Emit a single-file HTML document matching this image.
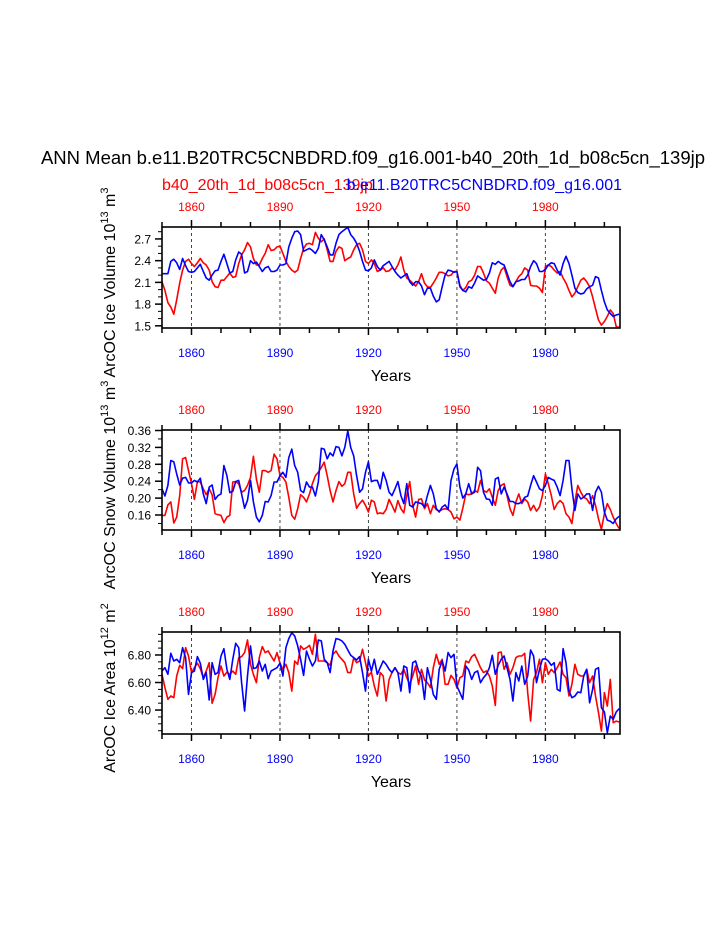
<!DOCTYPE html>
<html><head><meta charset="utf-8">
<style>
html,body{margin:0;padding:0;background:#fff;}
svg{display:block;font-family:"Liberation Sans",Arial,sans-serif;}
</style></head>
<body>
<svg id="chart" width="723" height="935" viewBox="0 0 723 935" xmlns="http://www.w3.org/2000/svg">
<text x="373" y="164" font-size="18.5" text-anchor="middle">ANN Mean b.e11.B20TRC5CNBDRD.f09_g16.001-b40_20th_1d_b08c5cn_139jp</text>
<text x="162" y="190" font-size="16" fill="#f00">b40_20th_1d_b08c5cn_139jp</text>
<text x="622" y="190" font-size="16" fill="#00f" text-anchor="end">b.e11.B20TRC5CNBDRD.f09_g16.001</text>
<g id="panels"></g>
</svg>
<script>
const years1 = [];
for (let y = 1850; y <= 2005; y++) years1.push(y);
const xTickYears = [1860, 1890, 1920, 1950, 1980];

const iceVolBlue = [2.22,2.22,2.22,2.39,2.42,2.37,2.28,2.43,2.33,2.25,2.24,2.25,2.30,2.35,2.25,2.16,2.13,2.20,2.26,2.27,2.39,2.49,2.36,2.23,2.25,2.41,2.52,2.49,2.23,2.25,2.40,2.36,2.38,2.32,2.25,2.30,2.32,2.25,2.25,2.27,2.34,2.34,2.36,2.59,2.71,2.80,2.81,2.76,2.53,2.55,2.57,2.54,2.50,2.57,2.76,2.69,2.59,2.48,2.48,2.64,2.76,2.80,2.83,2.86,2.76,2.71,2.64,2.53,2.39,2.27,2.26,2.30,2.41,2.32,
2.27,2.33,2.36,2.39,2.32,2.25,2.20,2.16,2.19,2.22,2.11,2.06,2.11,2.11,2.05,1.93,2.02,2.02,1.91,1.83,1.86,2.04,2.20,2.27,2.26,2.24,2.25,2.04,1.99,1.97,2.04,2.02,2.09,2.19,2.16,2.13,2.14,2.23,2.37,2.35,2.39,2.36,2.34,2.23,2.11,2.04,2.11,2.12,2.14,2.14,2.20,2.32,2.40,2.36,2.25,2.25,2.28,2.34,2.37,2.36,2.27,2.20,2.36,2.46,2.36,2.20,2.02,1.96,1.94,1.95,2.01,2.04,2.06,2.18,2.16,1.99,1.83,1.72,1.67,1.63,1.65,1.66];
const iceVolRed = [2.11,1.99,1.82,1.76,1.66,1.86,2.09,2.27,2.39,2.42,2.36,2.32,2.37,2.43,2.37,2.34,2.27,2.11,2.04,2.03,2.13,2.13,2.18,2.23,2.17,2.18,2.36,2.48,2.55,2.65,2.59,2.43,2.34,2.34,2.43,2.50,2.62,2.54,2.55,2.59,2.60,2.50,2.39,2.32,2.27,2.24,2.27,2.43,2.57,2.63,2.64,2.62,2.79,2.71,2.66,2.70,2.55,2.39,2.39,2.53,2.59,2.57,2.40,2.43,2.45,2.55,2.62,2.64,2.55,2.39,2.36,2.41,2.36,2.25,
2.27,2.30,2.25,2.26,2.30,2.27,2.34,2.45,2.27,2.16,2.13,2.09,2.05,2.11,2.22,2.09,2.04,2.03,2.09,2.16,2.24,2.24,2.22,2.19,2.20,2.25,2.25,2.06,1.99,2.03,2.11,2.13,2.20,2.32,2.32,2.23,2.12,2.09,2.02,1.95,2.16,2.27,2.31,2.18,2.06,2.04,2.11,2.18,2.22,2.30,2.27,2.06,2.05,2.05,2.02,1.96,2.32,2.34,2.32,2.27,2.23,2.25,2.16,2.09,1.99,1.90,1.95,2.04,2.13,2.16,2.11,2.04,1.90,1.74,1.58,1.51,1.56,1.63,1.72,1.67,1.49,1.48];

const snowBlue = [0.222,0.205,0.230,0.289,0.286,0.257,0.231,0.247,0.249,0.236,0.236,0.242,0.238,0.247,0.210,0.187,0.226,0.231,0.197,0.206,0.210,0.277,0.253,0.213,0.216,0.239,0.242,0.210,0.176,0.195,0.242,0.191,0.155,0.144,0.159,0.192,0.191,0.206,0.238,0.238,0.253,0.261,0.249,0.296,0.316,0.277,0.261,0.218,0.213,0.238,0.226,0.226,0.205,0.238,0.318,0.316,0.293,0.307,0.300,0.322,0.320,0.300,0.320,0.359,0.320,0.300,0.253,0.214,0.222,0.261,0.286,0.239,0.242,0.242,
0.222,0.261,0.242,0.214,0.206,0.222,0.239,0.206,0.187,0.234,0.183,0.179,0.191,0.189,0.187,0.179,0.206,0.230,0.210,0.175,0.167,0.179,0.184,0.173,0.242,0.269,0.281,0.226,0.200,0.210,0.234,0.210,0.214,0.273,0.265,0.214,0.198,0.197,0.183,0.245,0.249,0.210,0.226,0.210,0.192,0.192,0.187,0.187,0.191,0.202,0.205,0.230,0.253,0.238,0.222,0.218,0.230,0.249,0.245,0.242,0.226,0.206,0.242,0.289,0.289,0.222,0.171,0.210,0.198,0.202,0.210,0.210,0.171,0.214,0.228,0.214,0.167,0.148,0.145,0.140,0.151,0.157];
const snowRed = [0.159,0.159,0.184,0.191,0.141,0.155,0.206,0.293,0.296,0.265,0.234,0.197,0.239,0.238,0.222,0.208,0.222,0.208,0.163,0.161,0.159,0.142,0.155,0.159,0.238,0.239,0.234,0.214,0.218,0.230,0.249,0.299,0.245,0.214,0.265,0.265,0.261,0.265,0.304,0.293,0.253,0.249,0.238,0.202,0.159,0.150,0.175,0.208,0.202,0.191,0.210,0.234,0.253,0.261,0.273,0.285,0.253,0.218,0.191,0.218,0.239,0.228,0.234,0.261,0.261,0.210,0.176,0.187,0.195,0.183,0.167,0.195,0.191,0.163,
0.165,0.163,0.173,0.197,0.183,0.167,0.194,0.175,0.165,0.206,0.239,0.183,0.155,0.197,0.198,0.175,0.187,0.163,0.183,0.173,0.169,0.173,0.175,0.173,0.167,0.151,0.155,0.148,0.176,0.210,0.208,0.210,0.218,0.214,0.242,0.218,0.214,0.222,0.202,0.183,0.218,0.230,0.234,0.206,0.175,0.159,0.191,0.210,0.187,0.198,0.191,0.171,0.183,0.169,0.179,0.206,0.257,0.234,0.206,0.173,0.187,0.194,0.187,0.163,0.155,0.140,0.191,0.230,0.214,0.202,0.198,0.187,0.206,0.183,0.151,0.126,0.163,0.187,0.173,0.155,0.140,0.128];

const areaBlue = [6.684,6.708,6.660,6.812,6.756,6.769,6.744,6.853,6.781,6.514,6.672,6.684,6.788,6.740,6.623,6.672,6.473,6.744,6.660,6.672,6.793,6.846,6.696,6.623,6.769,6.885,6.853,6.599,6.393,6.647,6.866,6.701,6.708,6.756,6.684,6.732,6.628,6.684,6.696,6.708,6.740,6.647,6.853,6.919,6.963,6.938,6.866,6.769,6.652,6.829,6.769,6.720,6.756,6.909,6.902,6.769,6.744,6.672,6.829,6.919,6.914,6.902,6.878,6.836,6.798,6.781,6.764,6.788,6.672,6.538,6.769,6.684,6.769,6.660,
6.708,6.756,6.732,6.696,6.672,6.708,6.672,6.538,6.720,6.708,6.526,6.744,6.756,6.684,6.647,6.478,6.708,6.623,6.514,6.478,6.696,6.756,6.684,6.817,6.781,6.805,6.575,6.526,6.478,6.720,6.691,6.623,6.672,6.684,6.599,6.635,6.660,6.708,6.798,6.660,6.725,6.769,6.793,6.708,6.623,6.466,6.672,6.611,6.720,6.587,6.647,6.836,6.793,6.599,6.696,6.769,6.773,6.756,6.725,6.744,6.550,6.538,6.846,6.744,6.538,6.490,6.502,6.531,6.526,6.647,6.696,6.453,6.550,6.696,6.708,6.417,6.386,6.235,6.357,6.332,6.386,6.410];
const areaRed = [6.660,6.563,6.478,6.502,6.490,6.647,6.725,6.701,6.853,6.793,6.672,6.708,6.740,6.701,6.635,6.684,6.744,6.449,6.514,6.635,6.720,6.647,6.676,6.660,6.684,6.660,6.781,6.788,6.817,6.909,6.732,6.660,6.599,6.781,6.861,6.817,6.829,6.793,6.756,6.817,6.740,6.696,6.732,6.672,6.538,6.756,6.732,6.866,6.841,6.853,6.870,6.805,6.950,6.756,6.756,6.756,6.744,6.725,6.805,6.829,6.793,6.769,6.744,6.672,6.672,6.781,6.744,6.756,6.841,6.744,6.647,6.676,6.575,6.502,
6.672,6.647,6.466,6.623,6.672,6.708,6.672,6.660,6.696,6.635,6.587,6.647,6.720,6.587,6.696,6.618,6.599,6.563,6.708,6.805,6.732,6.769,6.587,6.587,6.652,6.623,6.563,6.635,6.647,6.756,6.744,6.788,6.805,6.756,6.708,6.672,6.684,6.647,6.575,6.434,6.817,6.822,6.696,6.744,6.660,6.708,6.781,6.793,6.793,6.812,6.526,6.320,6.623,6.672,6.769,6.599,6.744,6.660,6.696,6.672,6.708,6.749,6.660,6.635,6.502,6.587,6.732,6.660,6.647,6.647,6.696,6.599,6.647,6.502,6.381,6.247,6.526,6.429,6.623,6.308,6.320,6.313];

const yTicks1 = [1.5,1.8,2.1,2.4,2.7];
const yTickLabels1 = ["1.5","1.8","2.1","2.4","2.7"];
const yTicks2 = [0.16,0.20,0.24,0.28,0.32,0.36];
const yTickLabels2 = ["0.16","0.20","0.24","0.28","0.32","0.36"];
const yTicks3 = [6.40,6.60,6.80];
const yTickLabels3 = ["6.40","6.60","6.80"];

const NS = "http://www.w3.org/2000/svg";
const root = document.getElementById("panels");
const X0 = 162, X1 = 620, YEAR0 = 1850, YEAR1 = 2005.3;
function xScale(yr){ return X0 + (yr - YEAR0) / (YEAR1 - YEAR0) * (X1 - X0); }
function mk(tag, attrs, parent){ const e = document.createElementNS(NS, tag); for (const k in attrs) e.setAttribute(k, attrs[k]); (parent||root).appendChild(e); return e; }

const panels = [
 {key:"ice-volume", top:227, bot:328, ymin:1.47, ymax:2.865, ticks:yTicks1, labels:yTickLabels1, minor:0.1, blue:iceVolBlue, red:iceVolRed, title:"ArcOC Ice Volume 10", sup1:"13", unit:" m", sup2:"3"},
 {key:"snow-volume", top:430, bot:530, ymin:0.1245, ymax:0.3612, ticks:yTicks2, labels:yTickLabels2, minor:0.02, blue:snowBlue, red:snowRed, title:"ArcOC Snow Volume 10", sup1:"13", unit:" m", sup2:"3"},
 {key:"ice-area", top:632, bot:734, ymin:6.226, ymax:6.967, ticks:yTicks3, labels:yTickLabels3, minor:0.05, blue:areaBlue, red:areaRed, title:"ArcOC Ice Area 10", sup1:"12", unit:" m", sup2:"2"}
];

panels.forEach(p => {
  const g = mk("g", {});
  
  
  const yS = v => p.bot - (v - p.ymin) / (p.ymax - p.ymin) * (p.bot - p.top);
  xTickYears.forEach(yr => {
    const l = mk("line", {x1:xScale(yr), x2:xScale(yr), y1:p.top, y2:p.bot, stroke:"#444", "stroke-width":1, "stroke-dasharray":"3,3"}, g);
    
    
  });
  for (let yr = 1850; yr <= 2000; yr += 10) {
    const len = xTickYears.includes(yr) ? 7 : 5;
    mk("line", {x1:xScale(yr), x2:xScale(yr), y1:p.top, y2:p.top-len, stroke:"#000", "stroke-width":1.5}, g);
    mk("line", {x1:xScale(yr), x2:xScale(yr), y1:p.bot, y2:p.bot+len, stroke:"#000", "stroke-width":1.5}, g);
  }
  xTickYears.forEach(yr => {
    const t1 = mk("text", {x:xScale(yr), y:p.top-16, "font-size":12, fill:"#f00", "text-anchor":"middle"}, g);
    t1.textContent = yr;
    
    
    const t2 = mk("text", {x:xScale(yr), y:p.bot+29, "font-size":12, fill:"#00f", "text-anchor":"middle"}, g);
    t2.textContent = yr;
    
    
  });
  const start = Math.ceil(p.ymin / p.minor - 1e-6);
  for (let i = start; i * p.minor <= p.ymax + 1e-9; i++) {
    const v = i * p.minor;
    mk("line", {x1:X0, x2:X0-4, y1:yS(v), y2:yS(v), stroke:"#000", "stroke-width":1}, g);
  }
  p.ticks.forEach((v, i) => {
    mk("line", {x1:X0, x2:X0-7, y1:yS(v), y2:yS(v), stroke:"#000", "stroke-width":1.5}, g);
    const t = mk("text", {x:X0-11, y:yS(v)+4.5, "font-size":12, "text-anchor":"end"}, g);
    t.textContent = p.labels[i];
    
    
  });
  [["red", p.red, "#f00"], ["blue", p.blue, "#00f"]].forEach(([nm, arr, col]) => {
    const pts = arr.map((v, i) => xScale(years1[i]).toFixed(1) + "," + yS(v).toFixed(1)).join(" ");
    const pl = mk("polyline", {points:pts, fill:"none", stroke:col, "stroke-width":1.6, "stroke-linejoin":"round"}, g);
    
    
  });
  const fr = mk("rect", {x:X0, y:p.top, width:X1-X0, height:p.bot-p.top, fill:"none", stroke:"#000", "stroke-width":1.6}, g);
  
  
  const xt = mk("text", {x:391, y:p.bot+53, "font-size":16, "text-anchor":"middle"}, g);
  xt.textContent = "Years";
  
  
  const cy = (p.top + p.bot) / 2 + 5;
  const yt = mk("text", {x:0, y:0, "font-size":16, "text-anchor":"middle", transform:"translate(115," + cy + ") rotate(-90)"}, g);
  
  
  const s0 = document.createElementNS(NS, "tspan"); s0.textContent = p.title; yt.appendChild(s0);
  const s1 = document.createElementNS(NS, "tspan"); s1.setAttribute("dy", "-7"); s1.setAttribute("font-size", "11"); s1.textContent = p.sup1; yt.appendChild(s1);
  const s2 = document.createElementNS(NS, "tspan"); s2.setAttribute("dy", "7"); s2.textContent = p.unit; yt.appendChild(s2);
  const s3 = document.createElementNS(NS, "tspan"); s3.setAttribute("dy", "-7"); s3.setAttribute("font-size", "11"); s3.textContent = p.sup2; yt.appendChild(s3);
});
</script>
</body></html>
